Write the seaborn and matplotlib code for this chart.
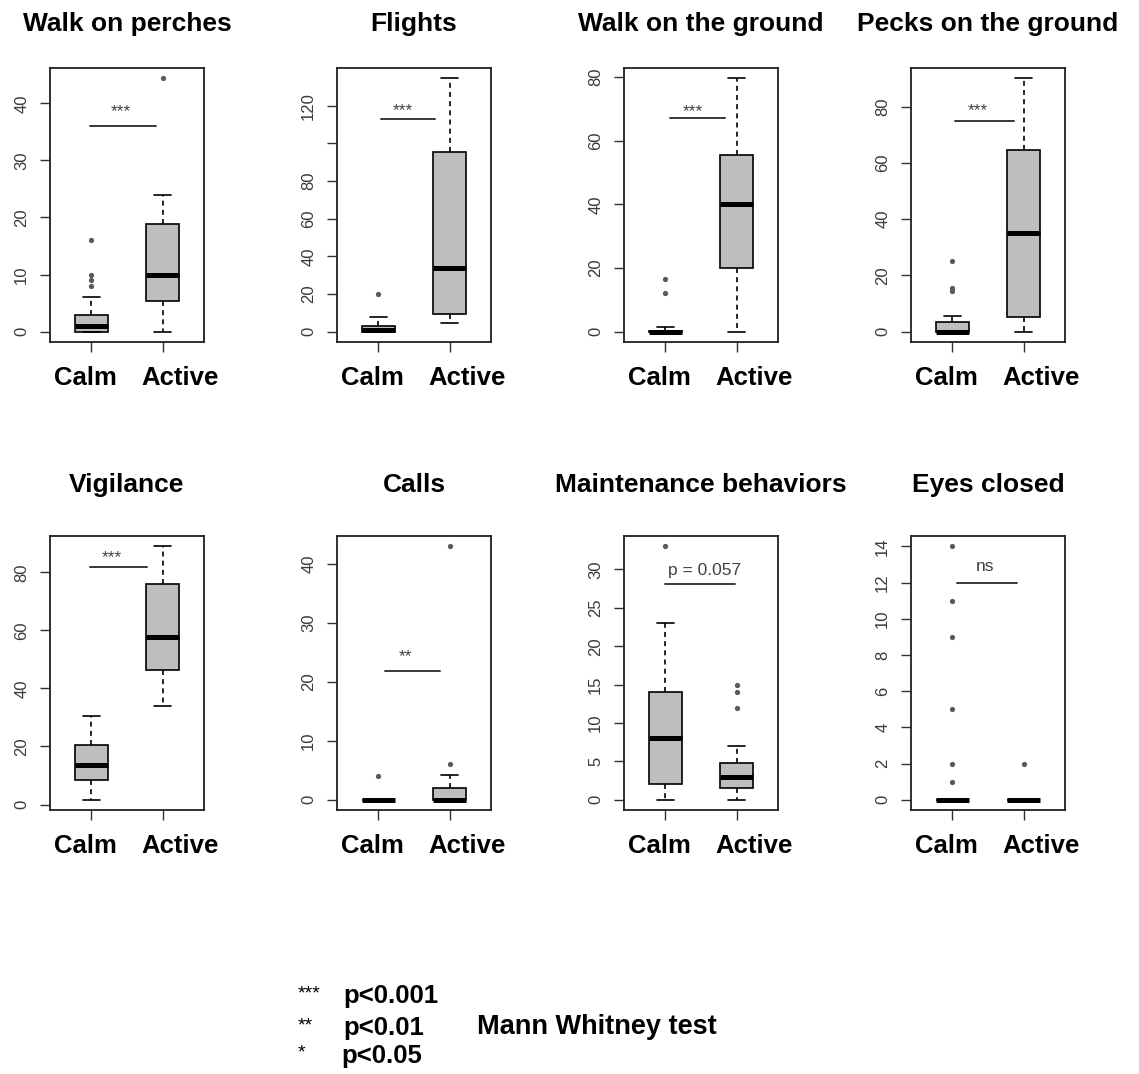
import pandas as pd
import matplotlib
matplotlib.use('Agg')
import matplotlib.pyplot as plt
import matplotlib.transforms as mtransforms
import seaborn as sns

# Panel titles and groups
titles = ['Walk on perches', 'Flights', 'Walk on the ground', 'Pecks on the ground',
          'Vigilance', 'Calls', 'Maintenance behaviors', 'Eyes closed']
groups = ['Calm', 'Active']

# Box summaries: lower whisker, Q1, median, Q3, upper whisker
calm_box = [[0, 0, 1, 3, 6],
            [0, 0, 1, 3.2, 8],
            [0, 0, 0, 0.3, 1.5],
            [0, 0, 0, 3.6, 5.4],
            [1.6, 8.6, 13.5, 20.5, 30.5],
            [0, 0, 0, 0, 0],
            [0, 2, 8, 14, 23],
            [0, 0, 0, 0, 0]]
active_box = [[0, 5.3, 10, 18.8, 24],
              [4.5, 9.6, 34, 95.5, 134.6],
              [0, 20, 40, 55.4, 79.6],
              [0, 5.3, 35, 64.7, 90.2],
              [34, 46.5, 57.7, 76, 89],
              [0, 0, 0, 2, 4.2],
              [0, 1.5, 3, 4.8, 7],
              [0, 0, 0, 0, 0]]

# Outliers
calm_out = [[8, 9, 10, 16], [20], [12, 16.5], [14.4, 15.6, 25.1], [], [4], [33],
            [1, 2, 5, 9, 11, 14]]
active_out = [[44.4], [], [], [], [], [6, 43], [12, 14, 15], [2]]

# Y ticks per panel
y_ticks = [[0, 10, 20, 30, 40],
           [0, 20, 40, 60, 80, 100, 120],
           [0, 20, 40, 60, 80],
           [0, 20, 40, 60, 80],
           [0, 20, 40, 60, 80],
           [0, 10, 20, 30, 40],
           [0, 5, 10, 15, 20, 25, 30],
           [0, 2, 4, 6, 8, 10, 12, 14]]
y_tick_labels = [['0', '10', '20', '30', '40'],
                 ['0', '20', '40', '60', '80', '', '120'],
                 ['0', '20', '40', '60', '80'],
                 ['0', '20', '40', '60', '80'],
                 ['0', '20', '40', '60', '80'],
                 ['0', '10', '20', '30', '40'],
                 ['0', '5', '10', '15', '20', '25', '30'],
                 ['0', '2', '4', '6', '8', '10', '12', '14']]

# Significance annotations
sig_labels = ['***', '***', '***', '***', '***', '**', 'p = 0.057', 'ns']
sig_line_y = [36, 112.9, 67.2, 75.1, 82, 21.8, 28.1, 12]
sig_line_x0 = [-0.02, 0.04, 0.07, 0.04, -0.02, 0.09, -0.01, 0.07]
sig_line_x1 = [0.91, 0.80, 0.84, 0.86, 0.78, 0.86, 0.97, 0.91]
sig_text_x = [0.41, 0.34, 0.39, 0.36, 0.29, 0.385, 0.544, 0.458]
sig_text_y = [38.6, 117.2, 69.2, 78.6, 85.0, 24.3, 29.9, 12.9]

sns.set_theme(style='ticks')
plt.rcParams['font.family'] = ['Liberation Sans', 'DejaVu Sans']
plt.rcParams['text.color'] = 'black'
plt.rcParams['axes.labelcolor'] = 'black'

fig, axes = plt.subplots(2, 4, figsize=(11.39, 10.74), dpi=100)
plt.subplots_adjust(left=50 / 1139, right=1065 / 1139, top=1 - 68 / 1074,
                    bottom=1 - 810 / 1074, wspace=0.864, hspace=0.71)

# group labels sit a bit apart from their ticks in the original
label_shift_px = [-6, 17]

for i, ax in enumerate(axes.flat):
    box_df = pd.DataFrame({
        'group': ['Calm'] * 5 + ['Active'] * 5,
        'value': calm_box[i] + active_box[i],
    })
    sns.boxplot(data=box_df, x='group', y='value', order=groups, whis=(0, 100),
                width=0.47, color='#bebebe', saturation=1, linecolor='black',
                linewidth=1.2, showfliers=False,
                medianprops=dict(linewidth=3.6, color='black'),
                whiskerprops=dict(linestyle=(0, (3, 2.5))),
                ax=ax)
    out_df = pd.DataFrame({
        'group': ['Calm'] * len(calm_out[i]) + ['Active'] * len(active_out[i]),
        'value': calm_out[i] + active_out[i],
    })
    if len(out_df):
        sns.stripplot(data=out_df, x='group', y='value', order=groups, jitter=False,
                      color='#5a5a5a', size=3.8, ax=ax)

    # R-like 4% axis expansion
    vals = calm_box[i] + active_box[i] + calm_out[i] + active_out[i]
    lo, hi = min(vals), max(vals)
    pad = 0.04 * (hi - lo)
    ax.set_ylim(lo - pad, hi + pad)
    ax.set_xlim(-0.58, 1.58)

    ax.plot([sig_line_x0[i], sig_line_x1[i]], [sig_line_y[i]] * 2,
            color='#383838', lw=1.4)
    ax.text(sig_text_x[i], sig_text_y[i], sig_labels[i], ha='center', va='center',
            fontsize=12.5, color='#404040')

    ax.set_yticks(y_ticks[i], labels=y_tick_labels[i])
    ax.set_xticks([0, 1], labels=['', ''])
    ax.tick_params(axis='y', length=7, width=1, labelsize=12, pad=8,
                   labelcolor='#3a3a3a', color='#303030')
    ax.tick_params(axis='x', length=7, width=1, color='#303030')
    for lab in ax.get_yticklabels():
        lab.set_rotation(90)
        lab.set_va('center')

    base = mtransforms.blended_transform_factory(ax.transData, ax.transAxes)
    for k, g in enumerate(groups):
        tr = base + mtransforms.ScaledTranslation(label_shift_px[k] / 100, -24 / 100,
                                                  fig.dpi_scale_trans)
        ax.text(k, 0, g, transform=tr, ha='center', va='top', fontsize=18.5,
                fontweight='bold', color='black')

    for sp in ax.spines.values():
        sp.set_visible(True)
        sp.set_color('#202020')
        sp.set_linewidth(1.3)
    ax.set_xlabel('')
    ax.set_ylabel('')
    ax.set_title(titles[i], fontsize=19, fontweight='bold', color='black',
                 pad=27 if i < 4 else 32)

# Legend block at the bottom
H = 1074
W = 1139
fig.text(298 / W, 1 - 998 / H, '***', fontsize=14, va='baseline')
fig.text(298 / W, 1 - 1030 / H, '**', fontsize=14, va='baseline')
fig.text(298 / W, 1 - 1057 / H, '*', fontsize=14, va='baseline')
fig.text(343 / W, 1 - 1003 / H, 'p<0.001', fontsize=18.5, fontweight='bold', va='baseline')
fig.text(343 / W, 1 - 1035 / H, 'p<0.01', fontsize=18.5, fontweight='bold', va='baseline')
fig.text(341 / W, 1 - 1063 / H, 'p<0.05', fontsize=18.5, fontweight='bold', va='baseline')
fig.text(477 / W, 1 - 1034 / H, 'Mann Whitney test', fontsize=19.5, fontweight='bold',
         va='baseline')

fig.savefig('out.png', dpi=100)
